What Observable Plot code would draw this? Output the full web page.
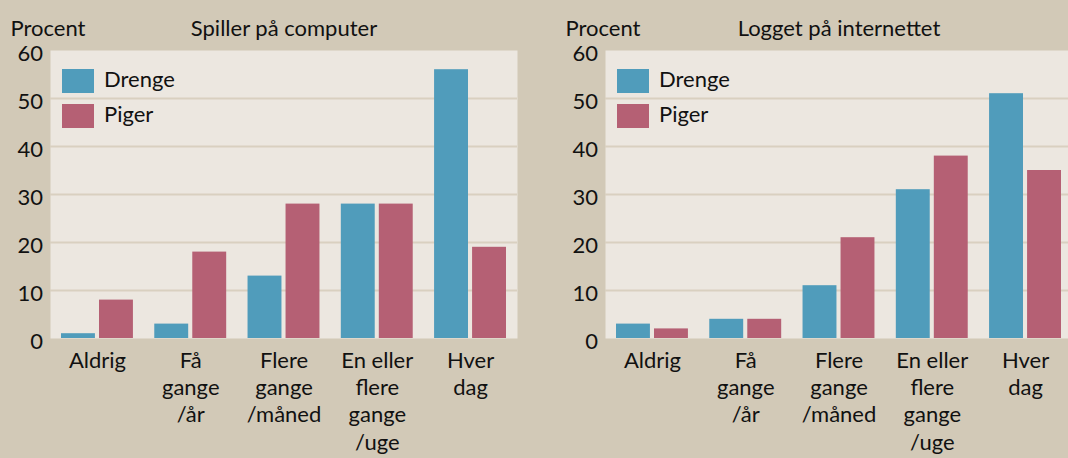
<!DOCTYPE html>
<html>
<head>
<meta charset="utf-8">
<script src="https://cdn.jsdelivr.net/npm/d3@7"></script>
<script src="https://cdn.jsdelivr.net/npm/@observablehq/plot@0.6"></script>
<style>
  html, body { margin: 0; padding: 0; overflow: hidden; }
  #wrap { position: relative; width: 1068px; height: 458px; background: #d2c9b7; overflow: hidden; font-family: Lato, sans-serif; }
  .panel { position: absolute; top: 0; width: 534px; height: 458px; }
  .panel svg { display: block; }
  .legend { position: absolute; left: 62px; top: 69px; }
  .item { position: relative; height: 24px; margin-bottom: 11px; }
  .sw { position: absolute; left: 0; top: 0; width: 32px; height: 24px; }
  .lab { position: absolute; left: 42px; top: -2px; font-size: 22px; line-height: 24px; color: #111; white-space: nowrap; }
</style>
</head>
<body>
<div id="wrap"></div>
<script>
const categories = ["Aldrig", "Få gange /år", "Flere gange /måned", "En eller flere gange /uge", "Hver dag"];
const categoryLabels = ["Aldrig", "Få\ngange\n/år", "Flere\ngange\n/måned", "En eller\nflere\ngange\n/uge", "Hver\ndag"];
const series = ["Drenge", "Piger"];
const seriesColors = ["#509cbb", "#b56074"];
const titles = ["Spiller på computer", "Logget på internettet"];
const computerDrenge = [1, 3, 13, 28, 56];
const computerPiger = [8, 18, 28, 28, 19];
const internetDrenge = [3, 4, 11, 31, 51];
const internetPiger = [2, 4, 21, 38, 35];
const yTicks = [0, 10, 20, 30, 40, 50, 60];
const yLabel = "Procent";

const panels = [
  {title: titles[0], drenge: computerDrenge, piger: computerPiger, left: 0},
  {title: titles[1], drenge: internetDrenge, piger: internetPiger, left: 555}
];

const wrap = document.getElementById("wrap");

for (const p of panels) {
  const rows = [];
  categories.forEach((c, i) => {
    rows.push({cat: c, sex: series[0], value: p.drenge[i]});
    rows.push({cat: c, sex: series[1], value: p.piger[i]});
  });
  const labelRows = categories.map((c, i) => ({cat: c, label: categoryLabels[i]}));

  const chart = Plot.plot({
    width: 534,
    height: 458,
    marginLeft: 50,
    marginRight: 17,
    marginTop: 50,
    marginBottom: 120,
    style: {background: "transparent", fontFamily: "Lato, sans-serif", fontSize: "22px", color: "#111", overflow: "visible"},
    x: {domain: categories, paddingInner: 0.229, paddingOuter: 0.118, round: false, axis: null},
    y: {domain: [0, 60], axis: null},
    marks: [
      Plot.frame({fill: "#ece7e0", stroke: "none"}),
      Plot.ruleY(yTicks.filter(v => v > 0 && v < 60), {stroke: "#d9d0c0", strokeWidth: 2}),
      Plot.barY(rows.filter(d => d.sex === series[0]), {x: "cat", y: "value", fill: seriesColors[0], insetRight: 38}),
      Plot.barY(rows.filter(d => d.sex === series[1]), {x: "cat", y: "value", fill: seriesColors[1], insetLeft: 38}),
      Plot.axisY(yTicks, {tickSize: 0, tickPadding: 7.5, dy: 3, fontSize: 22, label: null}),
      Plot.text(labelRows, {x: "cat", text: "label", frameAnchor: "bottom", lineAnchor: "top", dy: 10, lineHeight: 1.24, fontSize: 22, fill: "#111"}),
      Plot.text([yLabel], {text: d => d, frameAnchor: "top-left", textAnchor: "start", lineAnchor: "bottom", dx: -40, dy: -15, fontSize: 22, fill: "#111"}),
      Plot.text([p.title], {text: d => d, frameAnchor: "top", lineAnchor: "bottom", dy: -15, fontSize: 22, fill: "#111"})
    ]
  });

  const div = document.createElement("div");
  div.className = "panel";
  div.style.left = p.left + "px";
  div.appendChild(chart);

  const legend = document.createElement("div");
  legend.className = "legend";
  series.forEach((s, i) => {
    const item = document.createElement("div");
    item.className = "item";
    const sw = document.createElement("div");
    sw.className = "sw";
    sw.style.background = seriesColors[i];
    const lab = document.createElement("div");
    lab.className = "lab";
    lab.textContent = s;
    item.appendChild(sw);
    item.appendChild(lab);
    legend.appendChild(item);
  });
  div.appendChild(legend);
  wrap.appendChild(div);
}
</script>
</body>
</html>
